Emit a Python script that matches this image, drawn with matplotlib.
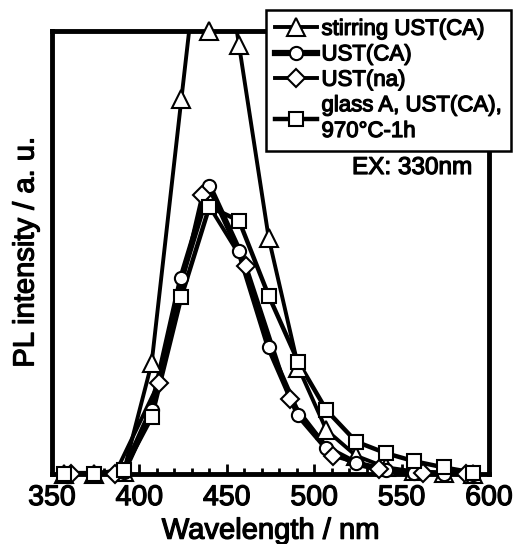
import matplotlib
matplotlib.use("Agg")
import matplotlib.pyplot as plt
import matplotlib.patheffects as pe
import numpy as np
from matplotlib.ticker import MultipleLocator, NullLocator

plt.rcParams['font.family'] = ['Liberation Sans', 'DejaVu Sans']

# ---- data ----
wl_grid = [357, 374, 391, 407, 424, 440, 457, 474, 491, 507, 524, 541, 557, 574, 591]
stirring_ust_ca = [0, 0, 0.5, 25.0, 84.6, 140, 96.8, 53.2, 24.0, 9.9, 4.1, 1.5, 0.6, 0.2, 0.0]
ust_ca = [0, 0, 0.5, 14.5, 44.3, 65.0, 50.4, 28.7, 13.3, 5.9, 2.4, 0.8, 0.3, 0.1, 0.0]
glass_a = [0, 0, 0.9, 12.8, 40.0, 60.3, 57.2, 40.2, 25.2, 14.4, 7.3, 4.7, 2.9, 1.5, 0.3]
wl_na = [361, 386, 411, 436, 461, 486, 511, 537, 562, 587]
ust_na = [0, 0, 20.5, 63.0, 47.0, 16.9, 4.1, 1.1, 0.2, 0.0]

labels = ["stirring UST(CA)", "UST(CA)", "UST(na)", "glass A, UST(CA),\n970°C-1h"]
xticks = [350, 400, 450, 500, 550, 600]
YMAX = 100

thick = [pe.withStroke(linewidth=0.9, foreground='black')]

fig = plt.figure(figsize=(5.16, 5.44), dpi=100)
ax = fig.add_axes([52/516, 1-474/544, (489-52)/516, (474-31)/544])

series = [
    (wl_grid, stirring_ust_ca, '^', 12.5, 2.8),
    (wl_grid, ust_ca, 'o', 9.5, 4.5),
    (wl_na, ust_na, 'D', 9.0, 2.8),
    (wl_grid, glass_a, 's', 10.5, 3.2),
]
handles = []
for (x, y, m, ms, lw), lab in zip(series, labels):
    x = np.asarray(x, float)
    y = np.asarray(y, float)
    ax.plot(x, y, '-', color='black', lw=lw, solid_joinstyle='round', zorder=2)
    ax.plot(x, np.minimum(y, YMAX), linestyle='none', marker=m, ms=ms,
            mfc='white', mec='black', mew=1.5, clip_on=False, zorder=3)
    h, = ax.plot([], [], '-', color='black', lw=lw, marker=m, ms=ms,
                 mfc='white', mec='black', mew=1.5)
    handles.append(h)

ax.set_xlim(350, 600)
ax.set_ylim(0, YMAX)
ax.set_xticks(xticks)
ax.xaxis.set_minor_locator(MultipleLocator(10))
ax.yaxis.set_major_locator(NullLocator())
ax.tick_params(axis='x', which='major', direction='in', length=7, width=2,
               labelsize=20.5, pad=8, top=False)
ax.tick_params(axis='x', which='minor', direction='in', length=4, width=2, top=False)
for t in ax.get_xticklabels():
    t.set_path_effects(thick)
for s in ax.spines.values():
    s.set_linewidth(3.5)

xl = ax.set_xlabel("Wavelength / nm", fontsize=21, labelpad=4)
yl = ax.set_ylabel("PL intensity / a. u.", fontsize=21, labelpad=9)
xl.set_path_effects(thick)
yl.set_path_effects(thick)

leg = fig.legend(handles, labels, loc='upper right',
                 bbox_to_anchor=(511/516, 1-10/544), borderaxespad=0,
                 prop={'size': 16},
                 numpoints=1, handlelength=1.9, handletextpad=0.2,
                 labelspacing=0.2, borderpad=0.4, fancybox=False,
                 framealpha=1, edgecolor='black')
leg.get_frame().set_linewidth(1.8)
for t in leg.get_texts():
    t.set_path_effects(thick)
    t.set_linespacing(1.3)

ex = fig.text(412/516, 1-168/544, "EX: 330nm", fontsize=17.5,
              ha='center', va='center')
ex.set_path_effects(thick)

fig.savefig("out.png", dpi=100)
